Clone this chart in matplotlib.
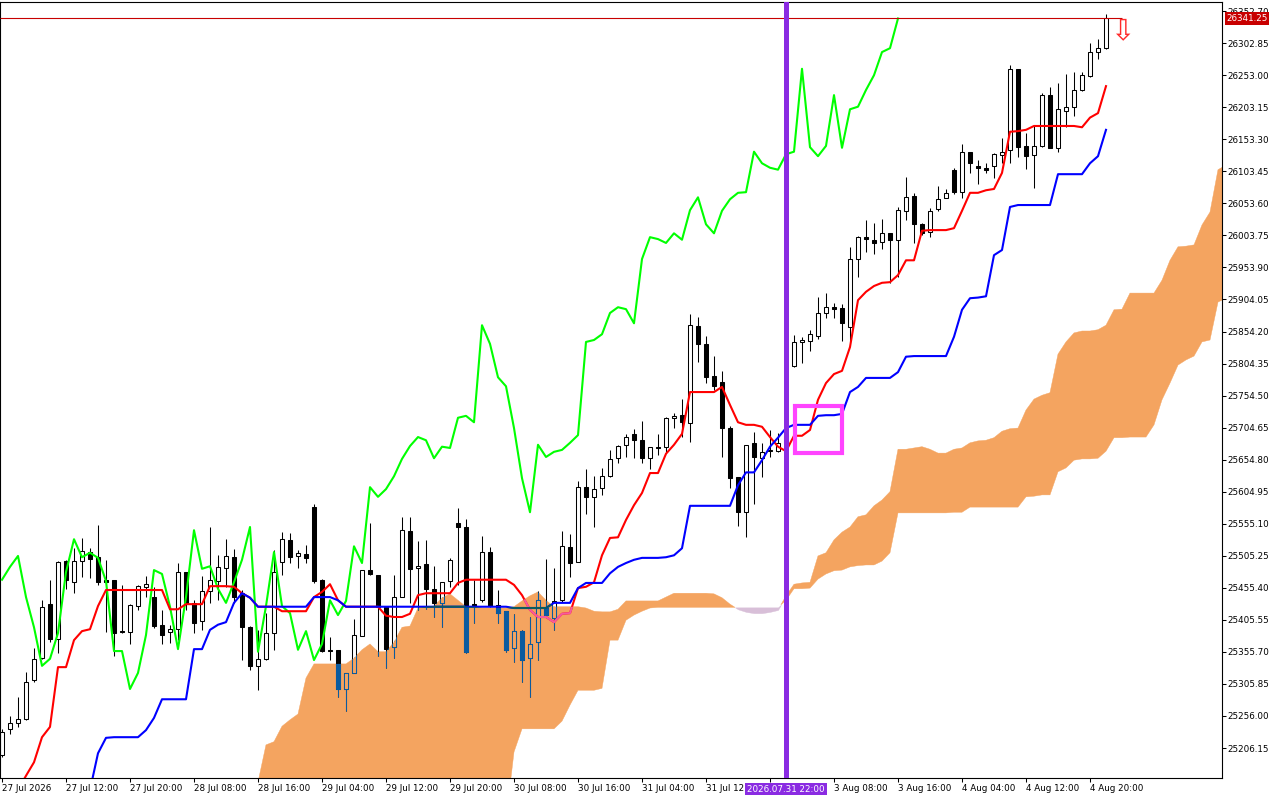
import numpy as np
import matplotlib
matplotlib.use("Agg")
import matplotlib.pyplot as plt
from matplotlib.path import Path
from matplotlib.patches import Rectangle
from matplotlib.transforms import blended_transform_factory

# ---------------- data (hourly bars, index 0 = first visible bar) ----------------
OPEN = [
    25195, 25236, 25245, 25251, 25312, 25346, 25430, 25376, 25497, 25464,
    25497, 25511, 25503, 25468, 25468, 25388, 25387, 25427, 25457, 25441,
    25398, 25387, 25391, 25480, 25432, 25404, 25450, 25466, 25486, 25503,
    25447, 25394, 25334, 25345, 25385, 25496, 25530, 25505, 25508, 25581,
    25468, 25359, 25359, 25298, 25323, 25380, 25483, 25475, 25426, 25363,
    25441, 25544, 25486, 25492, 25454, 25432, 25466, 25556, 25550, 25430,
    25436, 25511, 25429, 25419, 25362, 25388, 25346, 25371, 25424, 25408,
    25436, 25519, 25496, 25612, 25597, 25611, 25629, 25657, 25678, 25695,
    25685, 25657, 25675, 25675, 25720, 25724, 25712, 25863, 25835, 25785,
    25776, 25704, 25628, 25573, 25681, 25657, 25668, 25668, 25681, 25801,
    25838, 25839, 25847, 25883, 25892, 25891, 25861, 25967, 26001, 25997,
    25993, 26007, 25997, 26042, 26065, 26021, 26009, 26045, 26062, 26106,
    26071, 26134, 26112, 26109, 26112, 26129, 26137, 26263, 26143, 26129,
    26143, 26222, 26140, 26197, 26204, 26230, 26252, 26289, 26295,
]
HIGH = [
    25236, 25256, 25286, 25324, 25362, 25436, 25468, 25497, 25499, 25517,
    25533, 25517, 25553, 25499, 25468, 25460, 25430, 25460, 25474, 25457,
    25421, 25398, 25494, 25480, 25436, 25474, 25550, 25506, 25531, 25516,
    25452, 25396, 25390, 25416, 25514, 25542, 25541, 25514, 25522, 25586,
    25469, 25379, 25359, 25323, 25407, 25483, 25556, 25475, 25426, 25475,
    25566, 25566, 25528, 25530, 25489, 25464, 25502, 25580, 25562, 25468,
    25536, 25519, 25452, 25419, 25415, 25390, 25410, 25450, 25500, 25486,
    25544, 25539, 25622, 25640, 25629, 25642, 25670, 25678, 25695, 25703,
    25715, 25675, 25695, 25721, 25727, 25749, 25881, 25877, 25847, 25816,
    25793, 25707, 25628, 25678, 25698, 25681, 25701, 25696, 25701, 25849,
    25846, 25857, 25908, 25914, 25899, 25897, 25986, 26003, 26028, 26023,
    26029, 26007, 26048, 26095, 26070, 26023, 26046, 26081, 26076, 26109,
    26146, 26134, 26121, 26116, 26132, 26155, 26269, 26263, 26163, 26176,
    26225, 26235, 26241, 26255, 26258, 26258, 26303, 26309, 26348,
]
LOW = [
    25192, 25228, 25239, 25250, 25309, 25345, 25371, 25354, 25454, 25447,
    25472, 25471, 25460, 25387, 25349, 25385, 25368, 25421, 25441, 25393,
    25368, 25370, 25374, 25421, 25385, 25390, 25432, 25436, 25457, 25432,
    25343, 25328, 25296, 25343, 25359, 25475, 25494, 25486, 25494, 25463,
    25355, 25343, 25286, 25264, 25323, 25380, 25475, 25349, 25331, 25346,
    25441, 25432, 25421, 25422, 25410, 25394, 25457, 25460, 25354, 25401,
    25433, 25426, 25401, 25356, 25340, 25309, 25286, 25343, 25410, 25390,
    25433, 25472, 25496, 25570, 25550, 25600, 25628, 25650, 25659, 25657,
    25650, 25640, 25662, 25665, 25704, 25690, 25682, 25807, 25774, 25763,
    25659, 25611, 25552, 25534, 25586, 25628, 25659, 25667, 25675, 25799,
    25805, 25824, 25843, 25875, 25875, 25839, 25838, 25939, 25978, 25975,
    25983, 25930, 25939, 26028, 25992, 26004, 26001, 26042, 26062, 26068,
    26062, 26101, 26084, 26101, 26093, 26116, 26116, 26126, 26107, 26077,
    26141, 26139, 26134, 26172, 26190, 26228, 26250, 26278, 26294,
]
CLOSE = [
    25231, 25245, 25251, 25309, 25345, 25426, 25376, 25496, 25468, 25497,
    25513, 25500, 25464, 25464, 25385, 25387, 25429, 25458, 25461, 25396,
    25382, 25391, 25480, 25432, 25401, 25450, 25468, 25488, 25505, 25441,
    25394, 25334, 25345, 25385, 25480, 25531, 25503, 25510, 25502, 25466,
    25357, 25357, 25298, 25323, 25382, 25483, 25477, 25426, 25360, 25441,
    25545, 25485, 25489, 25454, 25432, 25464, 25499, 25550, 25356, 25427,
    25511, 25427, 25416, 25359, 25388, 25343, 25368, 25436, 25413, 25435,
    25520, 25494, 25612, 25597, 25609, 25629, 25656, 25676, 25690, 25685,
    25657, 25675, 25673, 25720, 25723, 25713, 25864, 25835, 25783, 25769,
    25704, 25626, 25573, 25678, 25659, 25667, 25670, 25681, 25693, 25838,
    25841, 25850, 25883, 25892, 25889, 25867, 25967, 26001, 25998, 25992,
    26007, 25997, 26043, 26063, 26021, 26007, 26042, 26060, 26070, 26071,
    26134, 26116, 26109, 26106, 26130, 26134, 26263, 26141, 26127, 26143,
    26222, 26140, 26200, 26204, 26230, 26253, 26289, 26295, 26341.25,
]
TENKAN = [
    25094, 25118, 25141, 25163, 25184, 25223, 25239, 25332, 25332, 25374,
    25388, 25391, 25427, 25452, 25452, 25452, 25452, 25452, 25452, 25452,
    25452, 25422, 25422, 25430, 25430, 25430, 25458, 25458, 25458, 25457,
    25447, 25440, 25426, 25426, 25426, 25419, 25419, 25419, 25419, 25441,
    25449, 25461, 25436, 25426, 25426, 25426, 25426, 25426, 25412, 25410,
    25410, 25415, 25444, 25447, 25447, 25447, 25447, 25463, 25468, 25468,
    25468, 25468, 25468, 25468, 25460, 25444, 25421, 25410, 25410, 25402,
    25415, 25416, 25455, 25457, 25464, 25506, 25533, 25534, 25561, 25584,
    25603, 25634, 25634, 25664, 25678, 25695, 25760, 25760, 25760, 25760,
    25768, 25740, 25713, 25709, 25709, 25706, 25690, 25675, 25668, 25692,
    25692, 25701, 25748, 25774, 25788, 25793, 25830, 25903, 25916, 25925,
    25930, 25931, 25942, 25965, 25965, 26011, 26012, 26012, 26012, 26015,
    26042, 26070, 26070, 26074, 26076, 26101, 26165, 26166, 26168, 26174,
    26174, 26174, 26174, 26174, 26174, 26172, 26187, 26194, 26236,
]
KIJUN = [
    25125, 25125, 25125, 25125, 25125, 25125, 25125, 25125, 25125, 25125,
    25125, 25141, 25198, 25222, 25223, 25223, 25223, 25223, 25234, 25253,
    25282, 25282, 25282, 25282, 25360, 25360, 25390, 25398, 25402, 25432,
    25447, 25440, 25426, 25426, 25426, 25426, 25426, 25426, 25426, 25441,
    25441, 25441, 25436, 25426, 25426, 25426, 25426, 25426, 25426, 25426,
    25426, 25426, 25426, 25426, 25426, 25426, 25426, 25426, 25426, 25426,
    25426, 25426, 25426, 25426, 25424, 25424, 25424, 25424, 25424, 25432,
    25432, 25432, 25455, 25463, 25463, 25463, 25478, 25488, 25494, 25499,
    25502, 25502, 25502, 25503, 25506, 25517, 25583, 25583, 25583, 25583,
    25583, 25583, 25615, 25635, 25635, 25654, 25675, 25689, 25704, 25709,
    25709, 25709, 25723, 25724, 25724, 25726, 25760, 25768, 25782, 25782,
    25782, 25782, 25791, 25815, 25816, 25816, 25816, 25816, 25816, 25846,
    25888, 25906, 25907, 25909, 25973, 25981, 26048, 26051, 26051, 26051,
    26051, 26051, 26099, 26099, 26099, 26099, 26116, 26127, 26168,
]
CLOUD_START = 31          # bar index of the first SPAN_A / SPAN_B value
SPAN_A = [
    25125, 25153, 25211, 25216, 25240, 25250, 25259, 25315, 25337, 25337,
    25337, 25337, 25337, 25346, 25359, 25368, 25356, 25356, 25371, 25394,
    25396, 25424, 25426, 25427, 25440, 25446, 25436, 25426, 25426, 25424,
    25424, 25424, 25424, 25426, 25435, 25443, 25449, 25436, 25426, 25426,
    25426, 25426, 25424, 25419, 25418, 25418, 25422, 25435, 25435, 25435,
    25435, 25435, 25441, 25447, 25447, 25447, 25447, 25447, 25446, 25440,
    25430, 25422, 25418, 25416, 25416, 25418, 25421, 25443, 25461, 25463,
    25464, 25505, 25510, 25530, 25542, 25550, 25566, 25569, 25583, 25592,
    25605, 25671, 25671, 25673, 25675, 25671, 25665, 25665, 25671, 25673,
    25681, 25684, 25685, 25689, 25699, 25703, 25704, 25732, 25749, 25755,
    25759, 25819, 25838, 25852, 25855, 25855, 25857, 25864, 25888, 25889,
    25914, 25914, 25914, 25914, 25934, 25965, 25986, 25987, 25989, 26020,
    26040, 26106, 26113,
]
SPAN_B = [
    25094, 25094, 25094, 25094, 25094, 25094, 25094, 25094, 25094, 25094,
    25094, 25094, 25094, 25094, 25094, 25094, 25094, 25094, 25094, 25094,
    25094, 25094, 25094, 25094, 25094, 25094, 25094, 25094, 25094, 25094,
    25094, 25094, 25094, 25200, 25236, 25236, 25236, 25236, 25236, 25248,
    25273, 25296, 25296, 25296, 25299, 25374, 25374, 25405, 25413, 25419,
    25424, 25425, 25425, 25425, 25425, 25425, 25425, 25425, 25425, 25425,
    25425, 25425, 25425, 25425, 25425, 25425, 25425, 25436, 25454, 25454,
    25455, 25469, 25477, 25482, 25483, 25488, 25490, 25491, 25491, 25497,
    25510, 25572, 25572, 25572, 25572, 25572, 25572, 25572, 25573, 25573,
    25581, 25581, 25581, 25581, 25581, 25581, 25581, 25597, 25598, 25600,
    25600, 25636, 25642, 25654, 25656, 25656, 25657, 25668, 25689, 25689,
    25690, 25690, 25690, 25709, 25748, 25774, 25802, 25810, 25816, 25838,
    25841, 25900, 25906,
]
CHIKOU_SHIFT = 26

TIME_TICKS = list(range(0, 137, 8))
# the label of the 31 Jul 20:00 tick is hidden under the highlighted cursor label
TIME_LABELS = [
    "27 Jul 2026", "27 Jul 12:00", "27 Jul 20:00", "28 Jul 08:00", "28 Jul 16:00",
    "29 Jul 04:00", "29 Jul 12:00", "29 Jul 20:00", "30 Jul 08:00", "30 Jul 16:00",
    "31 Jul 04:00", "31 Jul 12:00", "", "3 Aug 08:00", "3 Aug 16:00",
    "4 Aug 04:00", "4 Aug 12:00", "4 Aug 20:00",
]
PRICE_TICKS = [
    26352.70, 26302.85, 26253.00, 26203.15, 26153.30, 26103.45, 26053.60, 26003.75,
    25953.90, 25904.05, 25854.20, 25804.35, 25754.50, 25704.65, 25654.80, 25604.95,
    25555.10, 25505.25, 25455.40, 25405.55, 25355.70, 25305.85, 25256.00, 25206.15,
]
LAST_PRICE = 26341.25
LAST_LINE_END = 140
MARK_BAR = 98
MARK_LABEL = "2026.07.31 22:00"
BOX_T0, BOX_T1 = 99.1, 105.0
BOX_P_LOW, BOX_P_HIGH = 25665, 25738
ARROW_BAR, ARROW_PRICE = 140, 26322

# ---------------- styles ----------------
FONT = "DejaVu Sans"
FS = 6.3
SANDY = "#f4a460"
THISTLE = "#d8bfd8"

fig = plt.figure(figsize=(12.8, 8), dpi=100, facecolor="white")
ax = fig.add_axes([0.0, 22 / 800, 1222 / 1280, 776 / 800])
ax.set_facecolor("white")
ax.set_xlim(-0.25, 152.5)
ax.set_ylim(25159.5, 26366.9)

o = np.array(OPEN, float)
h = np.array(HIGH, float)
l = np.array(LOW, float)
c = np.array(CLOSE, float)
x = np.arange(len(c))

# ---- cloud ----
sa = np.array(SPAN_A, float)
sb = np.array(SPAN_B, float)
xc = np.arange(CLOUD_START, CLOUD_START + len(sa))
orange = ax.fill_between(xc, sa, sb, where=sa >= sb, interpolate=True,
                         facecolor=SANDY, edgecolor=SANDY, lw=0.3, zorder=1)
ax.fill_between(xc, sa, sb, where=sa < sb, interpolate=True,
                facecolor=THISTLE, edgecolor=THISTLE, lw=0.3, zorder=1)
clip_path = Path.make_compound_path(*orange.get_paths())


def draw_candles(wick_col, up_face, dn_face, edge, z, clip=None):
    up = c >= o
    wl = ax.vlines(x, l, h, colors=wick_col, lw=0.75, zorder=z)
    bottoms = np.minimum(o, c)
    heights = np.maximum(np.abs(c - o), 0.8)
    faces = np.where(up, up_face, dn_face)
    bars = ax.bar(x, heights, bottom=bottoms, width=0.52, color=faces,
                  edgecolor=edge, linewidth=0.75, zorder=z + 0.05)
    if clip is not None:
        wl.set_clip_path(clip, ax.transData)
        for p in bars:
            p.set_clip_path(clip, ax.transData)


draw_candles("black", "white", "black", "black", 2)
# colours inside the cloud (inverted drawing as in the terminal)
draw_candles("#0b5b9f", SANDY, "#0b5b9f", "#0b5b9f", 2.2, clip=clip_path)

# ---- lines ----
xk = np.arange(len(c) - CHIKOU_SHIFT)
ck = c[CHIKOU_SHIFT:]
ax.plot(xk, ck, color="#00ff00", lw=1.5, zorder=3)
ax.plot(x, TENKAN, color="#ff0000", lw=1.5, zorder=3)
ax.plot(x, KIJUN, color="#0000ff", lw=1.5, zorder=3)
for xs, ys, col in [(xk, ck, "#0ba49f"), (x, TENKAN, "#f45b9f"), (x, KIJUN, "#0b5b60")]:
    ln, = ax.plot(xs, ys, color=col, lw=1.5, zorder=3.1)
    ln.set_clip_path(clip_path, ax.transData)

# ---- objects ----
ax.hlines(LAST_PRICE, -0.25, LAST_LINE_END, color="#c80000", lw=0.8, zorder=3.5)
ax.axvline(MARK_BAR, color="#8a2be2", lw=3.6, zorder=4)
ax.add_patch(Rectangle((BOX_T0, BOX_P_LOW), BOX_T1 - BOX_T0, BOX_P_HIGH - BOX_P_LOW,
                       fill=False, edgecolor="#ff44ff", lw=3.0, zorder=5))
ax.text(ARROW_BAR, ARROW_PRICE, "\u21e9", ha="center", va="center", fontsize=21,
        color="#ff2a2a", family=FONT, zorder=6)

# ---- axes ----
for s in ax.spines.values():
    s.set_color("black")
    s.set_linewidth(0.8)
ax.set_xticks(TIME_TICKS)
ax.set_xticklabels(TIME_LABELS, fontsize=FS, family=FONT, ha="left")
ax.yaxis.tick_right()
ax.set_yticks(PRICE_TICKS)
ax.set_yticklabels([f"{v:.2f}" for v in PRICE_TICKS], fontsize=FS, family=FONT)
ax.tick_params(axis="x", direction="out", length=3, width=0.75, pad=1.5, colors="black")
ax.tick_params(axis="y", direction="out", length=3, width=0.75, pad=1.2, colors="black")

# current price label
ax.text(1.0035, LAST_PRICE, "26341.25", transform=blended_transform_factory(ax.transAxes, ax.transData),
        ha="left", va="center", color="white", fontsize=FS, family=FONT, zorder=10, clip_on=False,
        bbox=dict(boxstyle="square,pad=0.18", fc="#c80000", ec="none"))
# highlighted time label
ax.text(MARK_BAR, -0.0142, MARK_LABEL, transform=blended_transform_factory(ax.transData, ax.transAxes),
        ha="center", va="center", color="white", fontsize=FS, family=FONT, zorder=10, clip_on=False,
        bbox=dict(boxstyle="square,pad=0.2", fc="#8a2be2", ec="none"))

fig.savefig("out.png", dpi=100, facecolor="white")
